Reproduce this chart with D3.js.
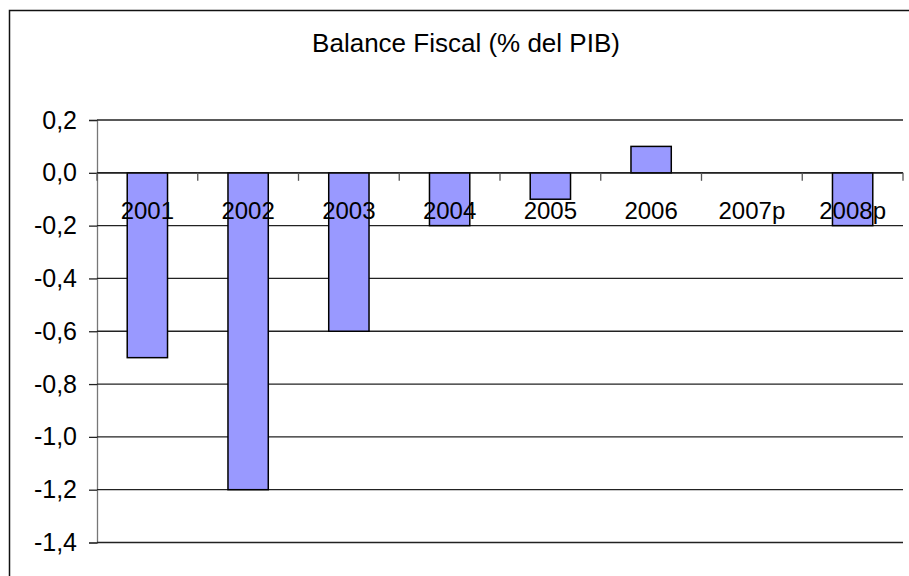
<!DOCTYPE html>
<html>
<head>
<meta charset="utf-8">
<script src="https://cdn.jsdelivr.net/npm/d3@7"></script>
<style>
  body { margin: 0; background: #fff; }
  svg { display: block; font-family: Arial, "Liberation Sans", sans-serif; }
</style>
</head>
<body>
<svg id="chart" width="909" height="576"></svg>
<script>
var categories = ["2001", "2002", "2003", "2004", "2005", "2006", "2007p", "2008p"];
var values = [-0.7, -1.2, -0.6, -0.2, -0.1, 0.1, 0.0, -0.2];
var yTicks = [0.2, 0.0, -0.2, -0.4, -0.6, -0.8, -1.0, -1.2, -1.4];
var title = "Balance Fiscal (% del PIB)";

var svg = d3.select('#chart');
var plotLeft = 97, plotRight = 903, plotTop = 120, plotBottom = 542.5;

// outer frame (runs off the right and bottom edge)
svg.append('rect').attr('x', 9.5).attr('y', 10.5).attr('width', 920).attr('height', 600)
  .attr('fill', 'none').attr('stroke', '#111').attr('stroke-width', 1.5);

svg.append('text').attr('x', 466).attr('y', 52).attr('text-anchor', 'middle')
  .attr('font-size', 26).attr('fill', '#000').text(title);

var x = d3.scaleBand().domain(categories).range([plotLeft, plotRight]).paddingInner(0.6).paddingOuter(0.3);
var xb = d3.scaleBand().domain(categories).range([plotLeft, plotRight]);
var y = d3.scaleLinear().domain([-1.4, 0.2]).range([plotBottom, plotTop]);

// gridlines + y labels
var yAxis = svg.append('g').attr('transform', 'translate(' + plotLeft + ',0)')
  .call(d3.axisLeft(y).tickValues(yTicks).tickSize(8).tickPadding(12)
    .tickFormat(function(d) { return d3.format('.1f')(d).replace('.', ',').replace('−', '-'); }));
yAxis.select('.domain').attr('stroke', '#777').attr('stroke-width', 1.3);
yAxis.selectAll('.tick line').attr('stroke', '#222').attr('stroke-width', 1.3);
yAxis.selectAll('.tick text').attr('font-size', 25).attr('fill', '#000').attr('font-family', 'Arial, "Liberation Sans", sans-serif');

svg.append('g').selectAll('line').data(yTicks).join('line')
  .attr('x1', plotLeft).attr('x2', plotRight)
  .attr('y1', function(d) { return y(d); }).attr('y2', function(d) { return y(d); })
  .attr('stroke', '#222').attr('stroke-width', 1.3);

// bars
svg.append('g').selectAll('rect').data(values).join('rect')
  .attr('x', function(d, i) { return x(categories[i]); })
  .attr('width', x.bandwidth())
  .attr('y', function(d) { return y(Math.max(0, d)); })
  .attr('height', function(d) { return Math.abs(y(d) - y(0)); })
  .attr('fill', '#9999ff').attr('stroke', '#000').attr('stroke-width', 1.5);

// category axis on zero line
var xAxis = svg.append('g').attr('transform', 'translate(0,' + y(0) + ')');
xAxis.append('line').attr('x1', plotLeft).attr('x2', plotRight).attr('stroke', '#111').attr('stroke-width', 1.3);
xAxis.selectAll('.ctick').data(categories.concat(['end'])).join('line').attr('class', 'ctick')
  .attr('x1', function(d, i) { return plotLeft + i * xb.step(); })
  .attr('x2', function(d, i) { return plotLeft + i * xb.step(); })
  .attr('y1', 0).attr('y2', 8).attr('stroke', '#555').attr('stroke-width', 1.3);
xAxis.selectAll('text').data(categories).join('text')
  .attr('x', function(d) { return xb(d) + xb.bandwidth() / 2; })
  .attr('y', 46).attr('text-anchor', 'middle').attr('font-size', 24).attr('fill', '#000')
  .text(function(d) { return d; });
</script>
</body>
</html>
